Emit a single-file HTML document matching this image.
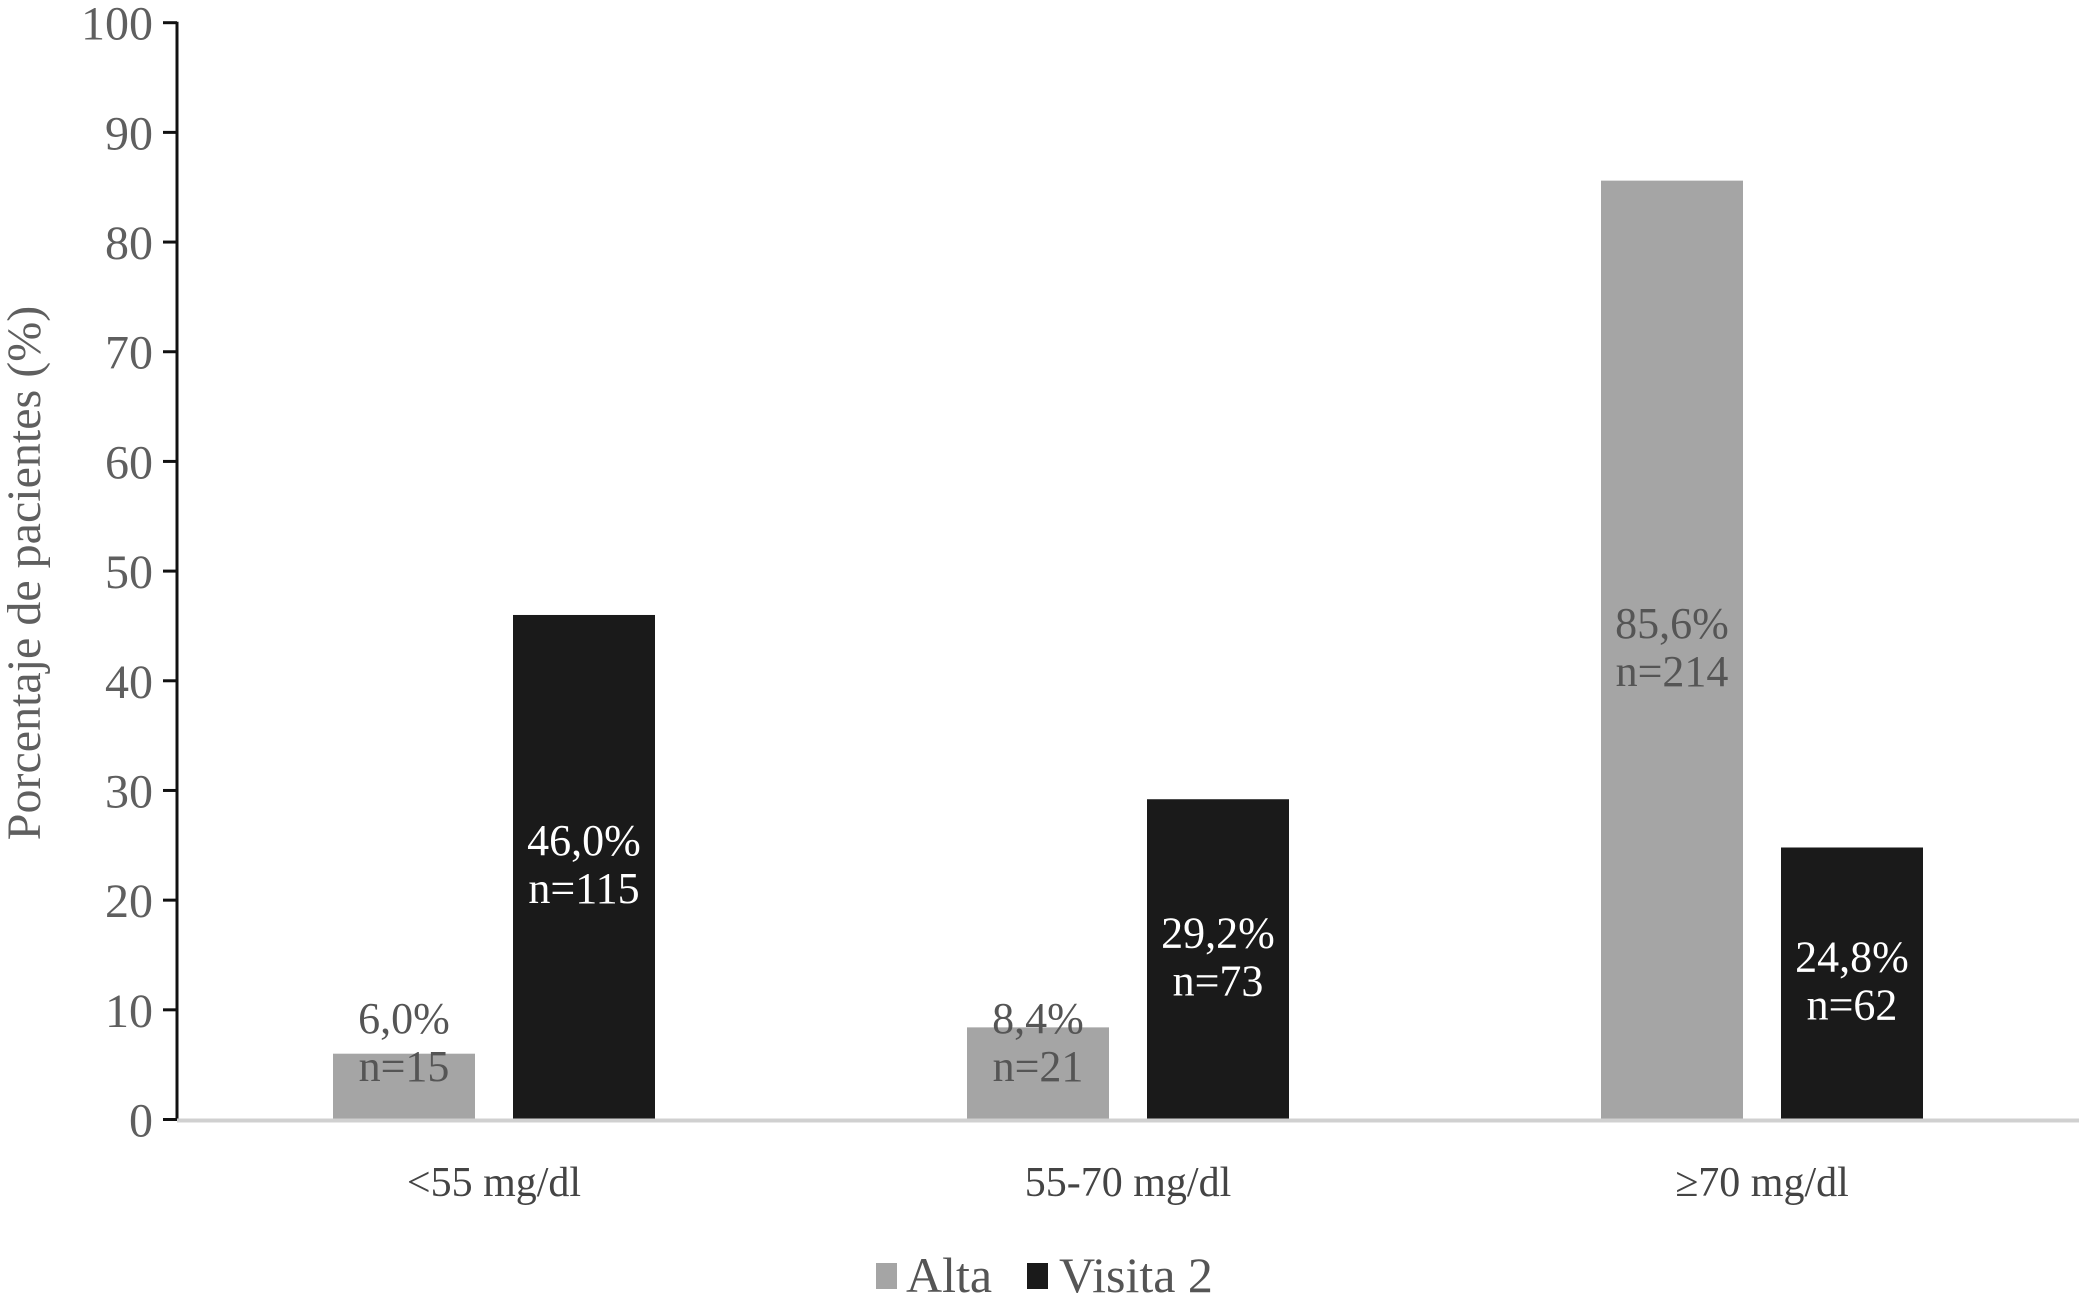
<!DOCTYPE html>
<html><head><meta charset="utf-8"><style>
body{margin:0;background:#fff}
svg text{font-family:"Liberation Serif",serif}
</style></head><body>
<svg id="chart" width="2083" height="1295" xmlns="http://www.w3.org/2000/svg">
<g id="marks"></g>
</svg>
<script>
const categories=["<55 mg/dl","55-70 mg/dl","\u226570 mg/dl"];
const altaValues=[6.0,8.4,85.6];
const visitaValues=[46.0,29.2,24.8];
const altaN=[15,21,214];
const visitaN=[115,73,62];
const yTicks=[0,10,20,30,40,50,60,70,80,90,100];

const svg=document.getElementById('marks');
const NS='http://www.w3.org/2000/svg';
const x0=177,x1=2079,y0=1119.5,yTop=22.7;
function y(v){return y0-(v/100)*(y0-yTop);}
const gw=(x1-x0)/categories.length;
function gc(i){return x0+gw*(i+0.5);}
function el(t,a){const e=document.createElementNS(NS,t);for(const k in a)e.setAttribute(k,a[k]);svg.appendChild(e);return e;}
function txt(s,a){const e=el('text',a);e.textContent=s;return e;}
function fmt(v){return v.toFixed(1).replace('.',',')+'%';}

let ax=el('line',{x1:x0,y1:yTop-1,x2:x0,y2:y0,stroke:'#111','stroke-width':3});


yTicks.forEach(t=>{
  let tk=el('line',{x1:x0-14,y1:y(t),x2:x0,y2:y(t),stroke:'#111','stroke-width':3});
  
  
  let lb=txt(String(t),{x:153,y:y(t)+17,'text-anchor':'end','font-size':48,fill:'#5f5f5f'});
  
  
});
let yt=txt('Porcentaje de pacientes (%)',{x:0,y:0,'text-anchor':'middle','font-size':48,fill:'#5f5f5f',transform:'translate(40,573) rotate(-90)'});



const bw=142,gap=38;
function label(cx,v,n,col){
  let c=Math.min(y(v/2),1045);
  let a=txt(fmt(v),{x:cx,y:c-12,'text-anchor':'middle','font-size':44,fill:col});
  
  
  let b=txt('n='+n,{x:cx,y:c+36,'text-anchor':'middle','font-size':44,fill:col});
  
  
}
categories.forEach((c,i)=>{
  const cx=gc(i);
  const xa=cx-gap/2-bw, xv=cx+gap/2;
  let r1=el('rect',{x:xa,y:y(altaValues[i]),width:bw,height:y0-y(altaValues[i]),fill:'#a5a5a5'});
  
  
  let r2=el('rect',{x:xv,y:y(visitaValues[i]),width:bw,height:y0-y(visitaValues[i]),fill:'#1a1a1a'});
  
  
  label(xa+bw/2,altaValues[i],altaN[i],'#555');
  label(xv+bw/2,visitaValues[i],visitaN[i],'#fff');
  let cl=txt(c,{x:cx,y:1196,'text-anchor':'middle','font-size':42,fill:'#444'});
  
  
});
let xa=el('line',{x1:x0,y1:y0+1,x2:x1,y2:y0+1,stroke:'#d0d0d0','stroke-width':4});


let tk0=el('line',{x1:x0-14,y1:y0,x2:x0,y2:y0,stroke:'#111','stroke-width':3});



let l1=el('rect',{x:876,y:1263,width:21,height:26,fill:'#a5a5a5'});


let t1=txt('Alta',{x:906,y:1292,'font-size':50,fill:'#555'});


let l2=el('rect',{x:1027,y:1263,width:21,height:26,fill:'#1a1a1a'});


let t2=txt('Visita 2',{x:1059,y:1292,'font-size':50,fill:'#555'});


</script>
</body></html>
